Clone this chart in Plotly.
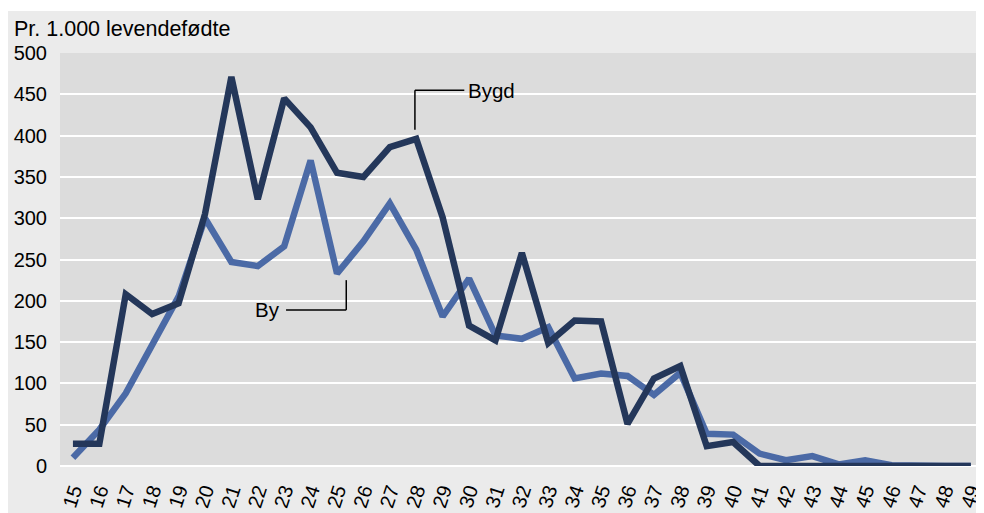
import plotly.graph_objects as go

ages = list(range(15, 50))
tick_labels = [str(a) for a in ages]
bygd = [27, 27, 208, 184, 197, 305, 471, 323, 445, 410, 355, 350, 386, 396, 301,
        170, 152, 258, 149, 176, 175, 51, 106, 121, 24, 29, 0, 0, 0, 0, 0, 0, 0, 0, 0]
by = [10, 44, 88, 147, 205, 300, 247, 242, 266, 370, 233, 272, 318, 262, 181,
      227, 158, 154, 168, 106, 112, 109, 86, 113, 39, 38, 15, 7, 12, 2, 7, 1, 0, 0, 0]

FONT = "Liberation Sans, Arial, sans-serif"
fig = go.Figure()
fig.add_trace(go.Scatter(x=ages, y=by, mode="lines", name="By",
                         line=dict(color="#4b6aa6", width=6.5)))
fig.add_trace(go.Scatter(x=ages, y=bygd, mode="lines", name="Bygd",
                         line=dict(color="#24375a", width=6.5)))

# leader lines for labels
fig.add_shape(type="line", x0=27.95, x1=27.95, y0=407, y1=455, line=dict(color="black", width=1.5))
fig.add_shape(type="line", x0=27.95, x1=29.82, y0=455, y1=455, line=dict(color="black", width=1.5))
fig.add_shape(type="line", x0=25.35, x1=25.35, y0=225, y1=189, line=dict(color="black", width=1.5))
fig.add_shape(type="line", x0=23.07, x1=25.35, y0=189, y1=189, line=dict(color="black", width=1.5))
fig.add_annotation(x=29.88, y=455, text="Bygd", showarrow=False, xanchor="left", yanchor="middle",
                   font=dict(size=20.5, color="black", family=FONT))
fig.add_annotation(x=22.9, y=189, text="By", showarrow=False, xanchor="right", yanchor="middle",
                   font=dict(size=20.5, color="black", family=FONT))
fig.add_annotation(x=-0.052, y=1.058, xref="paper", yref="paper", text="Pr. 1.000 levendefødte",
                   showarrow=False, xanchor="left", yanchor="middle",
                   font=dict(size=21.5, color="black", family=FONT))
# thin white strip at the very top
fig.add_shape(type="rect", xref="paper", yref="paper", x0=-0.1, x1=1.01, y0=1 + (53 - 11) / 413, y1=1.2,
              fillcolor="white", line=dict(width=0), layer="below")

fig.update_layout(
    width=976, height=505,
    margin=dict(l=52, r=0, t=45, b=47, autoexpand=False),
    paper_bgcolor="#ebebeb", plot_bgcolor="#dcdcdc",
    showlegend=False,
    font=dict(family=FONT, size=20, color="black"),
    xaxis=dict(range=[14.51, 49.5], tickmode="array", tickvals=ages, ticktext=tick_labels,
               tickangle=-72, showgrid=False, zeroline=False, showline=False, automargin=False,
               ticklabeloverflow="allow", ticklabelstandoff=8,
               tickfont=dict(size=20, family=FONT, color="black")),
    yaxis=dict(range=[0, 500], dtick=50, showgrid=True, gridcolor="white", gridwidth=2,
               zeroline=True, zerolinecolor="white", zerolinewidth=2, showline=False, automargin=False,
               ticklabelstandoff=12, tickfont=dict(size=20, family=FONT, color="black")),
)
fig.write_html("out.html")
